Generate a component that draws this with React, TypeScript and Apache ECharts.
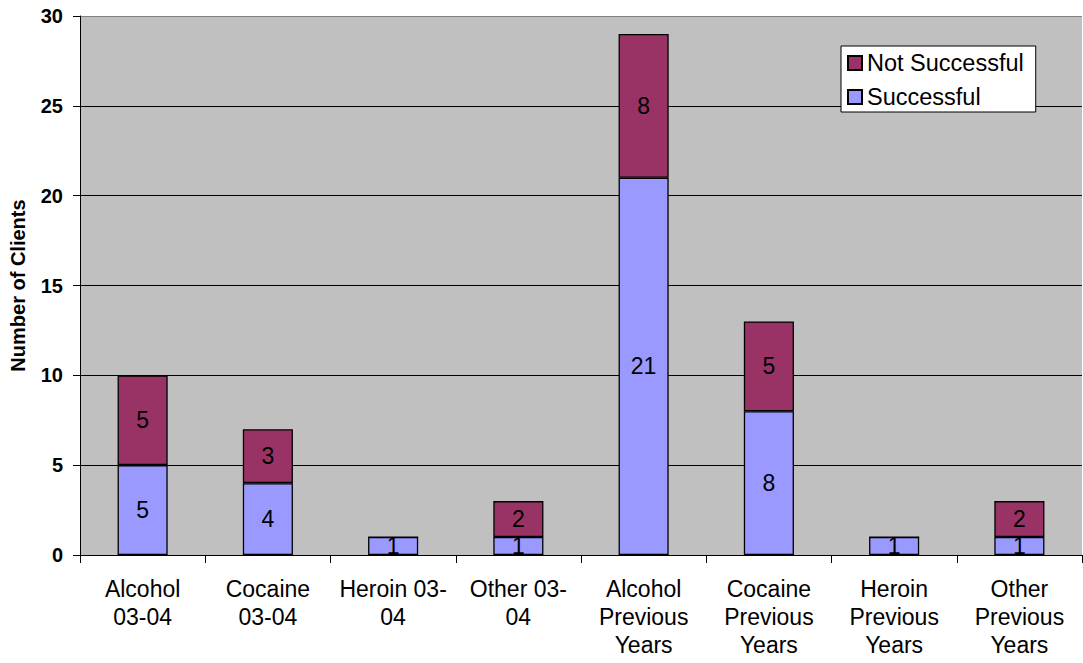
import React, { useEffect, useRef } from "react";
import * as echarts from "echarts";

const categories = [
  "Alcohol\n03-04",
  "Cocaine\n03-04",
  "Heroin 03-\n04",
  "Other 03-\n04",
  "Alcohol\nPrevious\nYears",
  "Cocaine\nPrevious\nYears",
  "Heroin\nPrevious\nYears",
  "Other\nPrevious\nYears",
];
const successful = [5, 4, 1, 1, 21, 8, 1, 1];
const notSuccessful = [5, 3, 0, 2, 8, 5, 0, 2];
const yTicks = { min: 0, max: 30, interval: 5 };

const FONT = "Liberation Sans, Arial, sans-serif";

export default function App() {
  const ref = useRef<HTMLDivElement>(null);

  useEffect(() => {
    const chart = echarts.init(ref.current!, undefined, { renderer: "svg" });
    const segLabel = {
      show: true,
      position: "inside",
      color: "#000",
      fontFamily: FONT,
      fontSize: 23,
      formatter: (p: any) => (p.value ? String(p.value) : ""),
    };
    chart.setOption({
      animation: false,
      backgroundColor: "#fff",
      textStyle: { fontFamily: FONT },
      grid: {
        left: 79,
        right: 1,
        top: 16,
        bottom: 108,
        show: true,
        backgroundColor: "#C0C0C0",
        borderWidth: 0,
      },
      legend: {
        orient: "vertical",
        left: 841,
        top: 46,
        data: ["Not Successful", "Successful"],
        backgroundColor: "#fff",
        borderColor: "#000",
        borderWidth: 1,
        padding: [5, 12, 3, 6],
        itemWidth: 14,
        itemHeight: 14,
        itemGap: 10,
        icon: "rect",
        textStyle: {
          fontFamily: FONT,
          fontSize: 23.5,
          lineHeight: 24,
          color: "#000",
        },
      },
      xAxis: {
        type: "category",
        data: categories,
        axisLine: { lineStyle: { color: "#000", width: 1 } },
        axisTick: { show: true, length: 8, lineStyle: { color: "#000" } },
        axisLabel: {
          color: "#000",
          fontFamily: FONT,
          fontSize: 23,
          lineHeight: 28,
          margin: 20,
          interval: 0,
        },
      },
      yAxis: {
        type: "value",
        min: yTicks.min,
        max: yTicks.max,
        interval: yTicks.interval,
        name: "Number of Clients",
        nameLocation: "middle",
        nameGap: 52,
        nameTextStyle: { fontFamily: FONT, fontSize: 20, fontWeight: "bold", color: "#000" },
        axisLine: { show: true, lineStyle: { color: "#000", width: 1 } },
        axisTick: { show: true, length: 7, lineStyle: { color: "#000" } },
        axisLabel: {
          color: "#000",
          fontFamily: FONT,
          fontSize: 20,
          fontWeight: "bold",
          margin: 17,
        },
        splitLine: {
          show: true,
          lineStyle: {
            color: ["#000", "#000", "#000", "#000", "#000", "#000", "#808080"],
            width: 1,
          },
        },
      },
      series: [
        {
          name: "Successful",
          type: "bar",
          stack: "total",
          barWidth: "40%",
          data: successful,
          itemStyle: { color: "#9999FF", borderColor: "#000", borderWidth: 1.3 },
          label: segLabel,
        },
        {
          name: "Not Successful",
          type: "bar",
          stack: "total",
          barWidth: "40%",
          data: notSuccessful,
          itemStyle: { color: "#993366", borderColor: "#000", borderWidth: 1.3 },
          label: segLabel,
        },
      ],
    });
    return () => chart.dispose();
  }, []);

  return (
    <div
      ref={ref}
      style={{ position: "fixed", left: 0, top: 0, width: 1083, height: 663 }}
    />
  );
}
